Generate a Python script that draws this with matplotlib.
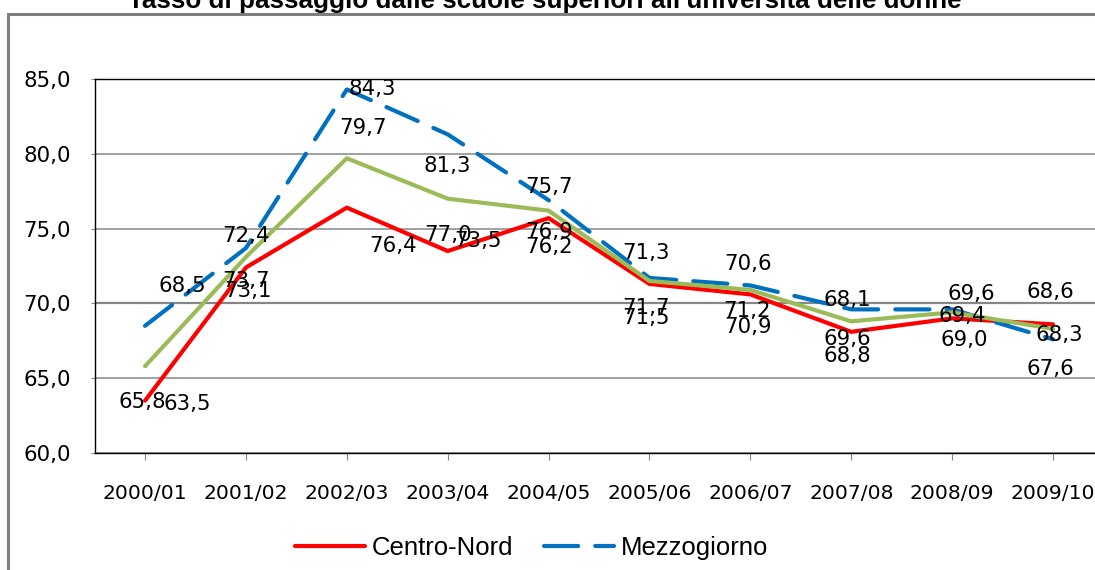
import matplotlib
matplotlib.use("Agg")
import matplotlib.pyplot as plt
from matplotlib.patches import Rectangle

# ---- data ----
categories = ["2000/01", "2001/02", "2002/03", "2003/04", "2004/05",
              "2005/06", "2006/07", "2007/08", "2008/09", "2009/10"]
centro_nord = [63.5, 72.4, 76.4, 73.5, 75.7, 71.3, 70.6, 68.1, 69.0, 68.6]
mezzogiorno = [68.5, 73.7, 84.3, 81.3, 76.9, 71.7, 71.2, 69.6, 69.6, 67.6]
italia = [65.8, 73.1, 79.7, 77.0, 76.2, 71.5, 70.9, 68.8, 69.4, 68.3]
y_ticks = [60, 65, 70, 75, 80, 85]
title = "Tasso di passaggio dalle scuole superiori all'università delle donne"

# ---- label offsets (pixels, dx, dy-down) ----
off_red = [(42, 3), (0, -31), (46, 38), (30, -10), (0, -31),
           (-3, -31), (-2, -30), (-4, -32), (12, 22), (-3, -32)]
off_blue = [(37, -40), (0, 33), (25, 0), (0, 32), (0, 32),
            (-3, 30), (-3, 26), (-4, 30), (19, -15), (-3, 30)]
off_green = [(-3, 36), (2, 34), (16, -30), (0, 36), (0, 36),
             (-3, 37), (-2, 37), (-4, 35), (10, 4), (6, 6)]

RED = "#FF0000"
BLUE = "#0070C0"
GREEN = "#9BBB59"

fig = plt.figure(figsize=(10.95, 5.7), dpi=100)
W, H = 1095, 570
ax = fig.add_axes([94.6 / W, (H - 453) / H, (1103.5 - 94.6) / W, (453 - 79) / H])

x = list(range(len(categories)))
ax.plot(x, centro_nord, color=RED, lw=3, solid_joinstyle="round",
        solid_capstyle="round", label="Centro-Nord", zorder=3)
ax.plot(x, mezzogiorno, color=BLUE, lw=3, dashes=(8.2, 4.1),
        dash_capstyle="round", dash_joinstyle="round", label="Mezzogiorno", zorder=4)
ax.plot(x, italia, color=GREEN, lw=3, solid_joinstyle="round",
        solid_capstyle="round", zorder=5)

def fmt(v):
    return f"{v:.1f}".replace(".", ",")

for series, offs in ((centro_nord, off_red), (mezzogiorno, off_blue), (italia, off_green)):
    for xi, v, (dx, dy) in zip(x, series, offs):
        ax.annotate(fmt(v), (xi, v), xytext=(dx, -dy), textcoords="offset pixels",
                    ha="center", va="center", fontsize=15.3, family="DejaVu Sans",
                    color="black", zorder=6, annotation_clip=False)

ax.set_xlim(-0.5, len(categories) - 0.5)
ax.set_ylim(60, 85)
ax.set_yticks(y_ticks)
ax.set_yticklabels([f"{t:.1f}".replace(".", ",") for t in y_ticks])
ax.set_xticks(x)
ax.set_xticklabels(categories)
ax.tick_params(axis="y", length=3, color="#868686", pad=14, labelsize=15.3)
ax.tick_params(axis="x", length=5, color="#868686", pad=17, labelsize=14.6)
ax.yaxis.grid(True, color="#868686", lw=1.1)
ax.set_axisbelow(True)
for gl, t in zip(ax.yaxis.get_gridlines(), y_ticks):
    if t == 70:
        gl.set_linewidth(1.6)
for s in ("left", "bottom", "top"):
    ax.spines[s].set_color("black")
    ax.spines[s].set_linewidth(1.0)
ax.spines["right"].set_visible(False)

# outer chart border
fig.patches.append(Rectangle((8 / W, -0.1), 1.2, 1.1 - 14 / H,
                             transform=fig.transFigure, fill=False,
                             edgecolor="#7f7f7f", lw=2.2))

fig.text(545 / W, 1 - 8 / H, title, ha="center", va="baseline",
         fontsize=18.7, fontweight="bold", family="Liberation Sans")

leg = fig.legend(loc="center", bbox_to_anchor=(531.5 / W, 1 - 548 / H), ncol=2,
                 frameon=False, prop={"family": "Liberation Sans", "size": 18.5},
                 handlelength=2.72, handletextpad=0.27, columnspacing=1.2,
                 borderpad=0, borderaxespad=0)

fig.savefig("out.png", dpi=100)
